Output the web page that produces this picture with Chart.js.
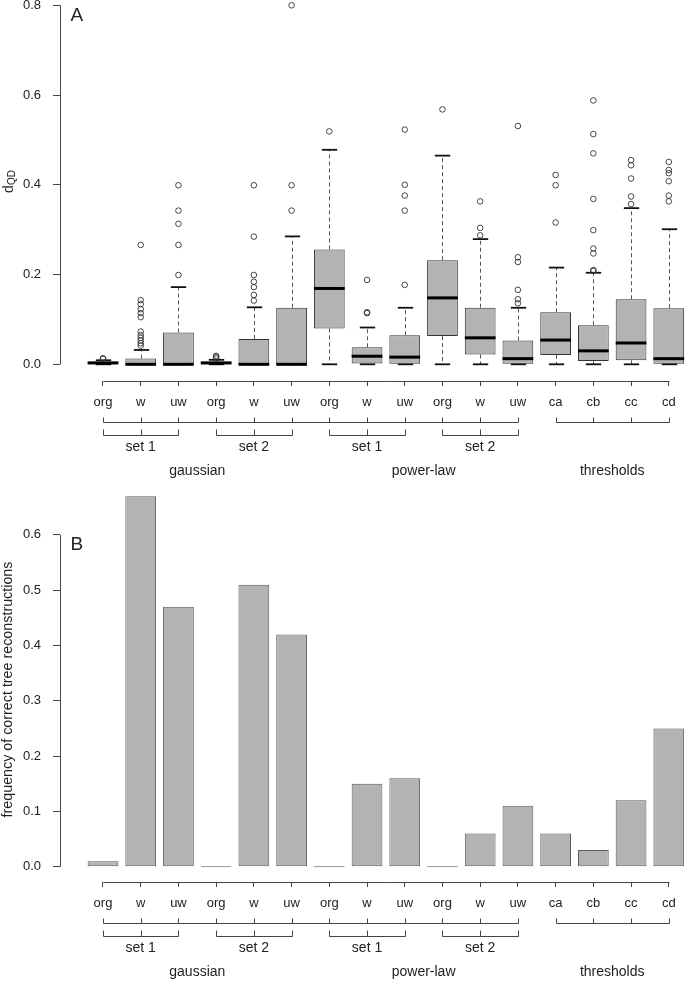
<!DOCTYPE html>
<html>
<head>
<meta charset="utf-8">
<script src="https://cdn.jsdelivr.net/npm/chart.js@4/dist/chart.umd.min.js"></script>
<style>
html,body{margin:0;padding:0;background:#fff;overflow:hidden;width:685px;height:981px}
#cA{position:absolute;left:0;top:0}
#cB{position:absolute;left:0;top:490px}
</style>
</head>
<body>
<canvas id="cA" width="685" height="490" style="width:685px;height:490px"></canvas>
<canvas id="cB" width="685" height="491" style="width:685px;height:491px"></canvas>
<script>
// ---------- data ----------
const categories = ['org','w','uw','org','w','uw','org','w','uw','org','w','uw','ca','cb','cc','cd'];
const setLabels = ['set 1','set 2','set 1','set 2'];
const setSpans = [[1,3],[4,6],[7,9],[10,12]];
const groupLabels = ['gaussian','power-law','thresholds'];
const groupSpans = [[1,6],[7,12],[13,16]];
const bracketSpans = [[1,12],[13,16]];

// panel A: box plots of dQD
const whiskerLow  = [0,0,0,0,0,0,0,0,0,0,0,0,0,0,0,0];
const q1          = [0.001,0,0,0.001,0,0,0.080,0.002,0,0.063,0.022,0.0015,0.021,0.0074,0.009,0.0015];
const median      = [0.003,0,0,0.003,0,0,0.169,0.018,0.016,0.148,0.059,0.0126,0.054,0.030,0.0475,0.0126];
const q3          = [0.006,0.013,0.071,0.006,0.0565,0.126,0.256,0.038,0.065,0.232,0.126,0.053,0.116,0.087,0.145,0.125];
const whiskerHigh = [0.009,0.032,0.172,0.010,0.127,0.285,0.478,0.082,0.126,0.465,0.279,0.126,0.2155,0.204,0.348,0.301];
const outliers = [
  [0.012,0.0135],
  [0.0415,0.047,0.053,0.059,0.065,0.073,0.105,0.114,0.123,0.134,0.143,0.266],
  [0.199,0.266,0.313,0.3425,0.399],
  [0.013,0.016,0.019],
  [0.142,0.1545,0.172,0.184,0.199,0.2845,0.399],
  [0.3425,0.399,0.800],
  [0.519],
  [0.114,0.116,0.188],
  [0.177,0.3425,0.376,0.400,0.523],
  [0.568],
  [0.2875,0.304,0.363],
  [0.136,0.145,0.166,0.228,0.2385,0.531],
  [0.316,0.399,0.422],
  [0.208,0.210,0.247,0.258,0.299,0.3685,0.470,0.513,0.588],
  [0.357,0.374,0.414,0.4435,0.455],
  [0.363,0.376,0.408,0.426,0.433,0.451]
];
const yTicksA = [0,0.2,0.4,0.6,0.8];

// panel B: frequency of correct tree reconstructions
const freqCorrect = [0.01,0.67,0.47,0,0.51,0.42,0,0.15,0.16,0,0.06,0.11,0.06,0.03,0.12,0.25];
const yTicksB = [0,0.1,0.2,0.3,0.4,0.5,0.6];

// ---------- styling ----------
const FONT = '"Liberation Sans", Arial, Helvetica, sans-serif';
const INK = '#222';
const LINE = '#444';
const FILL = '#b3b3b3';
Chart.defaults.font.family = FONT;
Chart.defaults.font.size = 13;
Chart.defaults.color = INK;

function xScaleOpts(h) {
  return {
    type: 'linear', min: -0.14, max: 16.43, offset: false,
    afterBuildTicks: s => { s.ticks = categories.map((c, i) => ({ value: i + 1 })); },
    afterFit: s => { s.height = h; s.paddingLeft = 0; s.paddingRight = 0; },
    ticks: { autoSkip: false, maxRotation: 0, minRotation: 0, padding: 8.5, color: INK,
             font: { family: FONT, size: 13 },
             callback: v => categories[Math.round(v) - 1] ?? '' },
    grid: { display: true, offset: false, drawOnChartArea: false, drawTicks: true, tickLength: 5, color: LINE, lineWidth: 1 },
    border: { display: false }
  };
}
function yScaleOpts(min, max, ticksArr) {
  return {
    type: 'linear', min: min, max: max,
    afterBuildTicks: s => { s.ticks = ticksArr.map(v => ({ value: v })); },
    afterFit: s => { s.width = 60; s.paddingTop = 0; s.paddingBottom = 0; },
    ticks: { padding: 12, color: INK, font: { family: FONT, size: 13 }, callback: v => Number(v).toFixed(1) },
    grid: { display: true, drawOnChartArea: false, drawTicks: true, tickLength: 7, color: LINE, lineWidth: 1 },
    border: { display: false }
  };
}

function seg(ctx, x1, y1, x2, y2) { ctx.beginPath(); ctx.moveTo(x1, y1); ctx.lineTo(x2, y2); ctx.stroke(); }

// axis lines, bracket rows, panel letter, y title
function framePlugin(letter, letterBaseline, yTicks, drawTitle) {
  return {
    id: 'frame' + letter,
    afterDraw(chart) {
      const ctx = chart.ctx, xs = chart.scales.x, ys = chart.scales.y, ca = chart.chartArea;
      const px = v => Math.round(xs.getPixelForValue(v)) + 0.5;
      const y0 = Math.round(xs.top) + 0.5;
      ctx.save();
      ctx.strokeStyle = LINE; ctx.lineWidth = 1;
      // x axis line
      seg(ctx, px(1), y0, px(categories.length), y0);
      // y axis line
      const xl = Math.round(ca.left) + 0.5;
      seg(ctx, xl, ys.getPixelForValue(yTicks[0]), xl, ys.getPixelForValue(yTicks[yTicks.length - 1]));
      // second row brackets
      const y2 = y0 + 41;
      bracketSpans.forEach(([a, b]) => {
        seg(ctx, px(a), y2, px(b), y2);
        for (let k = a; k <= b; k++) seg(ctx, px(k), y2, px(k), y2 - 5);
      });
      // set brackets
      const y3 = y0 + 54;
      setSpans.forEach(([a, b]) => {
        seg(ctx, px(a), y3, px(b), y3);
        for (let k = a; k <= b; k++) seg(ctx, px(k), y3, px(k), y3 - 6);
      });
      ctx.fillStyle = INK;
      ctx.font = '14px ' + FONT;
      ctx.textAlign = 'center'; ctx.textBaseline = 'alphabetic';
      setSpans.forEach(([a, b], i) => ctx.fillText(setLabels[i], xs.getPixelForValue((a + b) / 2), y0 + 69.5));
      groupSpans.forEach(([a, b], i) => ctx.fillText(groupLabels[i], xs.getPixelForValue((a + b) / 2), y0 + 93.3));
      // panel letter
      ctx.textAlign = 'left';
      ctx.font = '19px ' + FONT;
      ctx.fillText(letter, ca.left + 10.5, letterBaseline);
      drawTitle(ctx);
      ctx.restore();
    }
  };
}

// ---------- panel A ----------
const boxData = categories.map((c, i) => ({ x: i + 1, y: [q1[i], q3[i]] }));
const outlierPoints = outliers.flatMap((arr, i) => arr.map(v => ({ x: i + 1, y: v })));

const boxPlugin = {
  id: 'boxparts',
  beforeDatasetsDraw(chart) {
    const ctx = chart.ctx, ys = chart.scales.y;
    const meta = chart.getDatasetMeta(0);
    ctx.save();
    meta.data.forEach((el, i) => {
      const x = Math.round(el.x) + 0.5, hw = el.width / 2;
      // dashed whiskers
      ctx.strokeStyle = '#555'; ctx.lineWidth = 1; ctx.setLineDash([4, 3]);
      seg(ctx, x, ys.getPixelForValue(q3[i]), x, ys.getPixelForValue(whiskerHigh[i]));
      seg(ctx, x, ys.getPixelForValue(q1[i]), x, ys.getPixelForValue(whiskerLow[i]));
      // staples
      ctx.setLineDash([]); ctx.strokeStyle = '#111'; ctx.lineWidth = 1.8;
      seg(ctx, x - hw / 2, ys.getPixelForValue(whiskerHigh[i]), x + hw / 2, ys.getPixelForValue(whiskerHigh[i]));
      seg(ctx, x - hw / 2, ys.getPixelForValue(whiskerLow[i]), x + hw / 2, ys.getPixelForValue(whiskerLow[i]));
    });
    ctx.restore();
  },
  afterDatasetDraw(chart, args) {
    if (args.index !== 0) return;
    const ctx = chart.ctx, ys = chart.scales.y;
    ctx.save();
    ctx.strokeStyle = '#000'; ctx.lineWidth = 3;
    args.meta.data.forEach((el, i) => {
      const y = ys.getPixelForValue(median[i]);
      seg(ctx, el.x - el.width / 2, y, el.x + el.width / 2, y);
    });
    ctx.restore();
  }
};

new Chart(document.getElementById('cA'), {
  type: 'bar',
  data: {
    datasets: [
      { type: 'bar', data: boxData, backgroundColor: FILL, borderColor: '#333', borderWidth: 1,
        borderSkipped: false, barPercentage: 0.815, categoryPercentage: 1, order: 2 },
      { type: 'scatter', data: outlierPoints, pointRadius: 2.8, pointStyle: 'circle',
        pointBackgroundColor: 'rgba(0,0,0,0)', pointBorderColor: '#333', pointBorderWidth: 0.9, order: 1 }
    ]
  },
  options: {
    responsive: false, animation: false, devicePixelRatio: 1,
    layout: { padding: 0, autoPadding: false },
    plugins: { legend: { display: false }, tooltip: { enabled: false } },
    scales: { x: xScaleOpts(109), y: yScaleOpts(-0.0372, 0.8118, yTicksA) }
  },
  plugins: [boxPlugin, framePlugin('A', 20.7, yTicksA, ctx => {
    ctx.save();
    ctx.translate(13, 181.5);
    ctx.rotate(-Math.PI / 2);
    ctx.font = '14px ' + FONT;
    const wd = ctx.measureText('d').width;
    ctx.font = '10px ' + FONT;
    const wq = ctx.measureText('QD').width;
    const x0 = -(wd + wq) / 2;
    ctx.textAlign = 'left';
    ctx.font = '14px ' + FONT;
    ctx.fillText('d', x0, 0);
    ctx.font = '10px ' + FONT;
    ctx.fillText('QD', x0 + wd, 2);
    ctx.restore();
  })]
});

// ---------- panel B ----------
const barData = categories.map((c, i) => ({ x: i + 1, y: freqCorrect[i] }));

new Chart(document.getElementById('cB'), {
  type: 'bar',
  data: {
    datasets: [
      { data: barData, backgroundColor: FILL, borderColor: '#5a5a5a', borderWidth: 1,
        borderSkipped: false, barPercentage: 0.815, categoryPercentage: 1, minBarLength: 1 }
    ]
  },
  options: {
    responsive: false, animation: false, devicePixelRatio: 1,
    layout: { padding: 0, autoPadding: false },
    plugins: { legend: { display: false }, tooltip: { enabled: false } },
    scales: { x: xScaleOpts(99), y: yScaleOpts(-0.0277, 0.6812, yTicksB) }
  },
  plugins: [framePlugin('B', 60, yTicksB, ctx => {
    ctx.save();
    ctx.translate(12, 199.5);
    ctx.rotate(-Math.PI / 2);
    ctx.font = '14.3px ' + FONT;
    ctx.textAlign = 'center';
    ctx.fillText('frequency of correct tree reconstructions', 0, 0);
    ctx.restore();
  })]
});
</script>
</body>
</html>
